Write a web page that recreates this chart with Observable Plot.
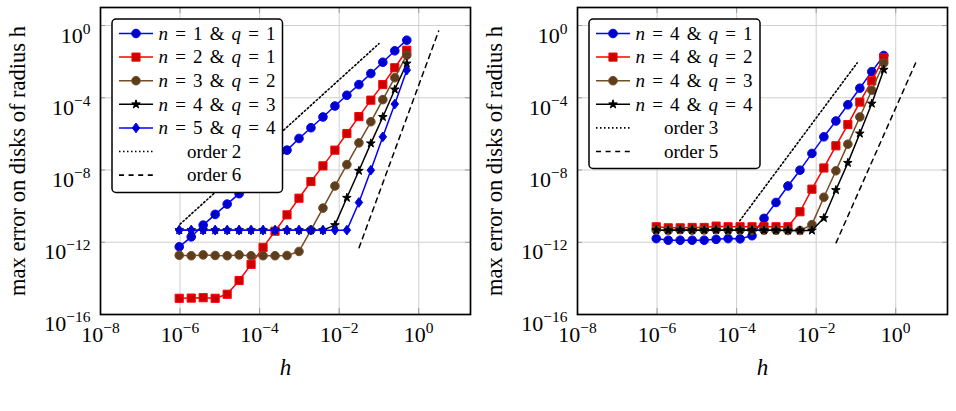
<!DOCTYPE html>
<html>
<head>
<meta charset="utf-8">
<script src="https://cdn.jsdelivr.net/npm/d3@7"></script>
<script src="https://cdn.jsdelivr.net/npm/@observablehq/plot@0.6"></script>
<style>
  html, body { margin: 0; padding: 0; background: #fff; }
  #wrap { position: relative; width: 956px; height: 411px; overflow: hidden; }
  .panel { position: absolute; top: 0; }
  .panel svg { overflow: visible; }
</style>
</head>
<body>
<div id="wrap">
  <div class="panel" id="left" style="left:0px"></div>
  <div class="panel" id="right" style="left:477px"></div>
</div>
<script>
// ---------- data ----------
const h = [9.54e-7, 1.91e-6, 3.81e-6, 7.63e-6, 1.53e-5, 3.05e-5, 6.10e-5, 1.22e-4, 2.44e-4, 4.88e-4,
           9.77e-4, 1.95e-3, 3.91e-3, 7.81e-3, 1.56e-2, 3.13e-2, 6.25e-2, 0.125, 0.25, 0.5];

// left panel
const errN1Q1 = [5.6e-13, 2.0e-12, 8.9e-12, 3.5e-11, 1.3e-10, 4.9e-10, 2.0e-9, 7.9e-9, 3.2e-8, 1.26e-7,
                 5.6e-7, 2.2e-6, 8.7e-6, 3.5e-5, 1.38e-4, 5.4e-4, 2.2e-3, 9.3e-3, 0.040, 0.155];
const errN2Q1 = [7.9e-16, 8.1e-16, 8.5e-16, 7.9e-16, 1.32e-15, 7.6e-15, 6.0e-14, 5.2e-13, 4.1e-12, 3.3e-11,
                 2.75e-10, 2.3e-9, 1.7e-8, 1.26e-7, 1.05e-6, 9.1e-6, 7.4e-5, 5.4e-4, 4.6e-3, 0.043];
const errN3Q2 = [1.9e-13, 1.8e-13, 2.0e-13, 1.86e-13, 1.8e-13, 2.0e-13, 1.8e-13, 1.8e-13, 1.8e-13, 1.85e-13,
                 3.1e-13, 4.7e-12, 7.8e-11, 1.3e-9, 2.0e-8, 3.2e-7, 4.7e-6, 7.9e-5, 1.3e-3, 0.023];
const errN4Q3 = [4.7e-12, 4.7e-12, 4.7e-12, 4.7e-12, 4.7e-12, 4.7e-12, 4.7e-12, 4.7e-12, 4.7e-12, 4.7e-12,
                 4.7e-12, 4.7e-12, 4.7e-12, 8.9e-12, 2.9e-10, 9.1e-9, 3.0e-7, 8.7e-6, 2.9e-4, 7.9e-3];
const errN5Q4 = [4.7e-12, 4.7e-12, 4.7e-12, 4.7e-12, 4.7e-12, 4.7e-12, 4.7e-12, 4.7e-12, 4.7e-12, 4.7e-12,
                 4.7e-12, 4.7e-12, 4.7e-12, 4.7e-12, 4.7e-12, 1.6e-10, 9.8e-9, 6.9e-7, 4.5e-5, 3.4e-3];

// right panel
const errN4Q1 = [1.6e-12, 1.3e-12, 1.3e-12, 1.3e-12, 1.3e-12, 1.45e-12, 1.6e-12, 1.55e-12, 2.3e-12, 2.1e-11,
                 1.6e-10, 1.3e-9, 9.8e-9, 8.3e-8, 6.9e-7, 5.2e-6, 4.1e-5, 3.4e-4, 2.8e-3, 0.022];
const errN4Q2 = [7.2e-12, 6.3e-12, 6.3e-12, 6.6e-12, 6.6e-12, 7.8e-12, 7.2e-12, 7.2e-12, 7.2e-12, 7.2e-12,
                 7.2e-12, 7.2e-12, 4.9e-11, 8.7e-10, 1.3e-8, 2.2e-7, 3.3e-6, 5.8e-5, 8.7e-4, 0.017];
const errN4Q3b = [4.8e-12, 4.6e-12, 5.0e-12, 4.7e-12, 4.8e-12, 5.0e-12, 4.7e-12, 4.8e-12, 4.7e-12, 4.7e-12,
                  4.6e-12, 4.5e-12, 4.5e-12, 9.5e-12, 3.1e-10, 9.1e-9, 2.7e-7, 8.7e-6, 2.6e-4, 8.5e-3];
const errN4Q4 = [4.7e-12, 4.6e-12, 4.8e-12, 4.7e-12, 4.7e-12, 4.8e-12, 4.6e-12, 4.7e-12, 4.7e-12, 4.6e-12,
                 4.6e-12, 4.5e-12, 4.5e-12, 4.5e-12, 2.2e-11, 7.8e-10, 2.5e-8, 1.05e-6, 4.8e-5, 3.6e-3];

// reference slopes (endpoints)
const order2H = [1e-6, 0.1],    order2E = [1e-11, 0.1];
const order6H = [0.0316, 3.16], order6E = [5e-13, 0.5];
const order3H = [1.2e-4, 0.107], order3E = [1.55e-11, 8.5e-3];
const order5H = [0.0316, 3.16], order5E = [9.3e-13, 8.5e-3];

// ticks and labels
const xTicks = [1e-8, 1e-6, 1e-4, 1e-2, 1];
const xTickExp = ["−8", "−6", "−4", "−2", "0"];
const yTicks = [1e-16, 1e-12, 1e-8, 1e-4, 1];
const yTickExp = ["−16", "−12", "−8", "−4", "0"];
const leftLabels = [["n", " = 1 & ", "q", " = 1"], ["n", " = 2 & ", "q", " = 1"], ["n", " = 3 & ", "q", " = 2"],
                    ["n", " = 4 & ", "q", " = 3"], ["n", " = 5 & ", "q", " = 4"]];
const rightLabels = [["n", " = 4 & ", "q", " = 1"], ["n", " = 4 & ", "q", " = 2"], ["n", " = 4 & ", "q", " = 3"],
                     ["n", " = 4 & ", "q", " = 4"]];
const yLabel = "max error on disks of radius h";
const xLabel = "h";

// ---------- styles ----------
const FONT = "'Liberation Serif', 'Times New Roman', serif";
const DOTTED = "1.5 2.5", DASHED = "5 4.6";
const diamondSym = {
  draw(ctx, size) {
    const w = Math.sqrt(size / 2.6);
    const t = w * 1.3;
    ctx.moveTo(0, -t); ctx.lineTo(w, 0); ctx.lineTo(0, t); ctx.lineTo(-w, 0); ctx.closePath();
  }
};
const styleBlueCircle = {color: "#0000ff", fill: "#0000cc", symbol: "circle", r: 4.3};
const styleRedSquare  = {color: "#ff0000", fill: "#cc0000", symbol: "square", r: 4.6};
const styleBrown      = {color: "#734d26", fill: "#5c3e1e", symbol: "circle", r: 4.3};
const styleBlackStar  = {color: "#000000", fill: "#000000", symbol: "star", r: 2.7};
const styleBlueDiam   = {color: "#0000ff", fill: "#0000cc", symbol: diamondSym, r: 3.4};

function seriesRows(errs) { return h.map((v, i) => ({h: v, e: errs[i]})); }
function refRows(H, E) { return H.map((v, i) => ({h: v, e: E[i]})); }

function seriesMarks(errs, st) {
  const rows = seriesRows(errs);
  return [
    Plot.line(rows, {x: "h", y: "e", stroke: st.color, strokeWidth: 1.5}),
    Plot.dot(rows, {x: "h", y: "e", symbol: st.symbol, r: st.r, fill: st.fill, stroke: st.color, strokeWidth: 1})
  ];
}

function makePanel(series, dotted, dashed) {
  const W = 478, H = 411;
  const marks = [
    Plot.gridX(xTicks, {stroke: "#cfcfcf", strokeOpacity: 1, strokeWidth: 1}),
    Plot.gridY(yTicks, {stroke: "#cfcfcf", strokeOpacity: 1, strokeWidth: 1}),
    // inward tick marks on all four sides
    Plot.ruleX(xTicks, {stroke: "#9a9a9a", insetTop: 301}),
    Plot.ruleX(xTicks, {stroke: "#9a9a9a", insetBottom: 301}),
    Plot.ruleY(yTicks, {stroke: "#9a9a9a", insetRight: 365}),
    Plot.ruleY(yTicks, {stroke: "#9a9a9a", insetLeft: 365}),
    Plot.axisX(xTicks, {tickSize: 0, tickPadding: 12, tickFormat: (d) => "10|" + xTickExp[xTicks.indexOf(d)], fontSize: 22, label: null}),
    Plot.axisY(yTicks, {tickSize: 0, tickPadding: 10, tickFormat: (d) => "10|" + yTickExp[yTicks.indexOf(d)], fontSize: 22, label: null}),
  ];
  for (const [errs, st] of series) marks.push(...seriesMarks(errs, st));
  marks.push(Plot.line(refRows(dotted[0], dotted[1]), {x: "h", y: "e", stroke: "#000", strokeWidth: 1.6, strokeDasharray: DOTTED}));
  marks.push(Plot.line(refRows(dashed[0], dashed[1]), {x: "h", y: "e", stroke: "#000", strokeWidth: 1.5, strokeDasharray: DASHED}));
  marks.push(Plot.frame({stroke: "#000", strokeWidth: 1.7}));
  marks.push(Plot.text([yLabel], {frameAnchor: "left", text: d => d, rotate: -90, dx: -83, fontSize: 22.5, lineAnchor: "middle", textAnchor: "middle"}));
  marks.push(Plot.text([xLabel], {frameAnchor: "bottom", text: d => d, dy: 53, fontSize: 23, fontStyle: "italic", lineAnchor: "middle", textAnchor: "middle"}));
  const chart = Plot.plot({
    width: W, height: H,
    marginLeft: 100, marginRight: 8, marginTop: 7, marginBottom: 97,
    x: {type: "log", domain: [1e-8, 20]},
    y: {type: "log", domain: [1e-16, 10]},
    style: {fontFamily: FONT, fontSize: "22px", background: "transparent", color: "#000"},
    marks
  });
  // rewrite tick labels as 10 with superscript exponent
  d3.select(chart).selectAll("text").each(function() {
    const t = d3.select(this);
    const s = this.textContent;
    if (s.startsWith("10|")) {
      const exp = s.slice(3);
      t.text(null);
      t.append("tspan").text("10");
      t.append("tspan").attr("dy", -9).attr("font-size", "15.5px").text(exp);
    }
  });
  d3.select(chart).selectAll('g[aria-label="y-axis tick label"] text').attr("dy", "0.45em");
  return chart;
}

function addLegend(chart, items, refs, box) {
  const svg = d3.select(chart);
  const g = svg.append("g").attr("font-family", FONT).attr("font-size", "19px").attr("text-anchor", "start");
  g.append("rect").attr("x", box.x).attr("y", box.y).attr("width", box.w).attr("height", box.h)
    .attr("rx", 4).attr("fill", "#fff").attr("stroke", "#000").attr("stroke-width", 1.5);
  const y0 = 33.5, dy = 23.6;
  items.forEach(([label, st], i) => {
    const y = y0 + i * dy;
    g.append("line").attr("x1", 119).attr("x2", 153).attr("y1", y).attr("y2", y)
      .attr("stroke", st.color).attr("stroke-width", 1.5);
    const sym = typeof st.symbol === "string"
      ? {circle: d3.symbolCircle, square: d3.symbolSquare, star: d3.symbolStar}[st.symbol]
      : st.symbol;
    g.append("path").attr("transform", `translate(136,${y})`)
      .attr("d", d3.symbol(sym, st.r * st.r * Math.PI)())
      .attr("fill", st.fill).attr("stroke", st.color).attr("stroke-width", 1);
    const t = g.append("text").attr("x", 158.5).attr("y", y + 6.3).attr("text-anchor", "start")
      .style("white-space", "pre").attr("word-spacing", "2.4px");
    label.forEach((part, j) => {
      const sp = t.append("tspan").text(part);
      if (j % 2 === 0) sp.attr("font-style", "italic");
    });
  });
  refs.forEach(([label, dash], k) => {
    const y = y0 + (items.length + k) * dy;
    g.append("line").attr("x1", 119).attr("x2", 153).attr("y1", y).attr("y2", y)
      .attr("stroke", "#000").attr("stroke-width", 1.6).attr("stroke-dasharray", dash);
    g.append("text").attr("x", 187).attr("y", y + 6.3).attr("text-anchor", "start").text(label);
  });
}

const left = makePanel(
  [[errN1Q1, styleBlueCircle], [errN2Q1, styleRedSquare], [errN3Q2, styleBrown], [errN4Q3, styleBlackStar], [errN5Q4, styleBlueDiam]],
  [order2H, order2E], [order6H, order6E]);
addLegend(left,
  [[leftLabels[0], styleBlueCircle], [leftLabels[1], styleRedSquare], [leftLabels[2], styleBrown], [leftLabels[3], styleBlackStar], [leftLabels[4], styleBlueDiam]],
  [["order 2", DOTTED], ["order 6", DASHED]],
  {x: 112, y: 19, w: 170.5, h: 173.5});
document.getElementById("left").appendChild(left);

const right = makePanel(
  [[errN4Q1, styleBlueCircle], [errN4Q2, styleRedSquare], [errN4Q3b, styleBrown], [errN4Q4, styleBlackStar]],
  [order3H, order3E], [order5H, order5E]);
addLegend(right,
  [[rightLabels[0], styleBlueCircle], [rightLabels[1], styleRedSquare], [rightLabels[2], styleBrown], [rightLabels[3], styleBlackStar]],
  [["order 3", DOTTED], ["order 5", DASHED]],
  {x: 112, y: 19, w: 171, h: 149.5});
document.getElementById("right").appendChild(right);
</script>
</body>
</html>
